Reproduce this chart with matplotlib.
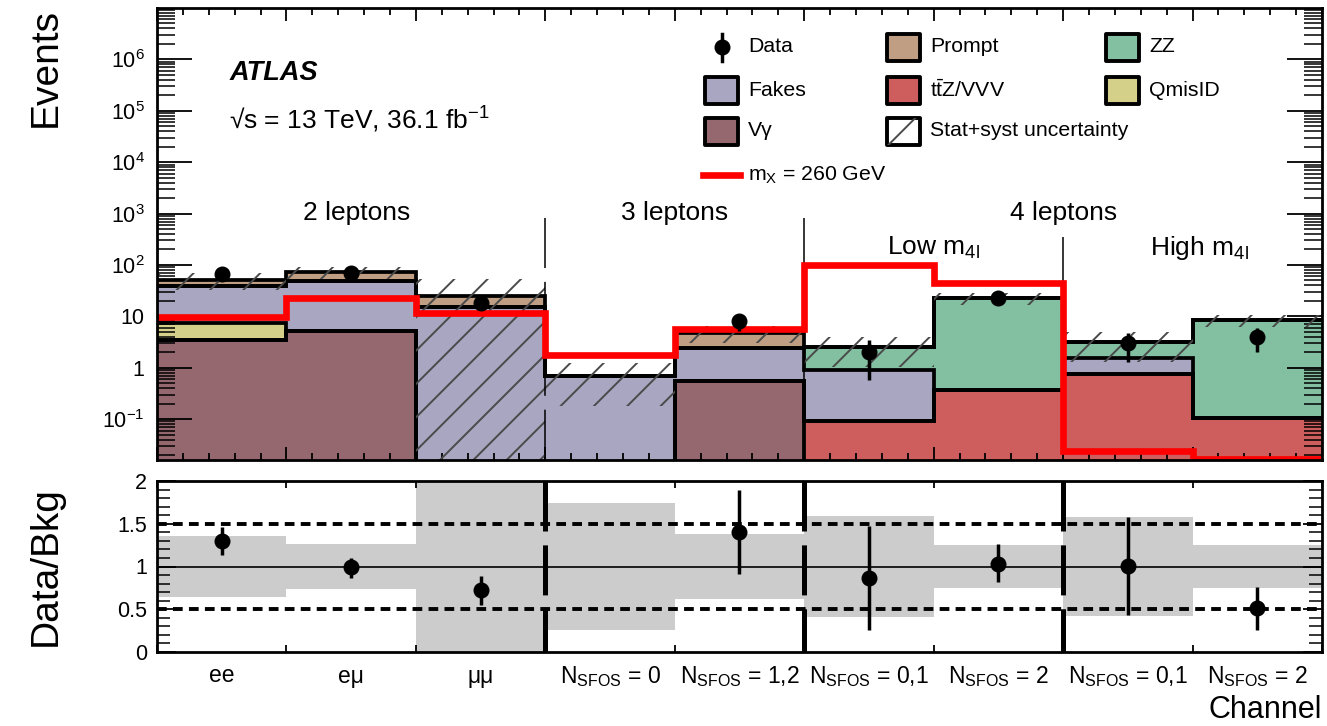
import numpy as np
import matplotlib
matplotlib.use("Agg")
import matplotlib.pyplot as plt
from matplotlib.patches import Rectangle
from matplotlib.lines import Line2D
from matplotlib.ticker import FixedLocator, LogLocator, MultipleLocator, FuncFormatter, NullFormatter
import matplotlib.transforms as mtransforms

plt.rcParams["font.family"] = ["Liberation Sans", "DejaVu Sans"]
plt.rcParams["mathtext.fontset"] = "custom"
plt.rcParams["mathtext.rm"] = "Liberation Sans"
plt.rcParams["mathtext.it"] = "Liberation Sans:italic"
plt.rcParams["mathtext.bf"] = "Liberation Sans:bold"
plt.rcParams["lines.scale_dashes"] = False
plt.rcParams["hatch.linewidth"] = 1.4

# ---------------- data ----------------
channels = ["ee", "eμ", "μμ",
            r"N$_{\mathrm{SFOS}}$ = 0", r"N$_{\mathrm{SFOS}}$ = 1,2",
            r"N$_{\mathrm{SFOS}}$ = 0,1", r"N$_{\mathrm{SFOS}}$ = 2",
            r"N$_{\mathrm{SFOS}}$ = 0,1", r"N$_{\mathrm{SFOS}}$ = 2"]

vgamma = [3.5, 5.2, 0, 0, 0.54, 0, 0, 0, 0]
ttz_vvv = [0, 0, 0, 0, 0, 0.09, 0.37, 0.75, 0.105]
qmisid = [3.9, 0, 0, 0, 0, 0, 0, 0, 0]
fakes = [31.6, 43.8, 15.0, 0.70, 1.86, 0.82, 0, 0.80, 0]
zz = [0, 0, 0, 0, 0, 1.6, 22.1, 1.55, 8.2]
prompt = [12.0, 23.0, 10.0, 0, 2.4, 0, 0, 0, 0]

data = [67, 71, 18, 0, 8, 2, 23, 3, 4]
signal_260 = [9.8, 22.5, 11.6, 1.8, 5.7, 100, 44, 0.024, 0.017]

# relative stat+syst uncertainty on the total background
bkg_rel_unc = [0.36, 0.26, 1.10, 0.74, 0.38, 0.59, 0.25, 0.58, 0.25]

ratio = [1.30, 0.99, 0.72, np.nan, 1.40, 0.87, 1.03, 1.01, 0.52]
ratio_err_up = [0.16, 0.11, 0.17, np.nan, 0.49, 0.60, 0.23, 0.57, 0.24]
ratio_err_dn = [0.17, 0.12, 0.17, np.nan, 0.49, 0.61, 0.21, 0.58, 0.26]

# ---------------- style ----------------
colors = {
    "Vγ": "#956870",
    "ttZ": "#CE5E5E",
    "QmisID": "#D4D089",
    "Fakes": "#A9A6C1",
    "ZZ": "#82C0A1",
    "Prompt": "#BF9E83",
}
stack = [("Vγ", vgamma), ("ttZ", ttz_vvv), ("QmisID", qmisid),
         ("Fakes", fakes), ("ZZ", zz), ("Prompt", prompt)]
hatch_color = "#4a4a4a"

nb = len(channels)
edges = np.arange(nb + 1)
centers = edges[:-1] + 0.5
W, H = 1327, 726
FLOOR = 1e-4
YMIN, YMAX = 0.016, 1.0e7

fig = plt.figure(figsize=(W / 100, H / 100), dpi=100)


def fig_xy(px, py):
    return px / W, 1 - py / H


ax = fig.add_axes([157 / W, 1 - 460 / H, 1165 / W, 452 / H])
ax2 = fig.add_axes([157 / W, 1 - 652 / H, 1165 / W, 171 / H])

# ---------------- upper panel ----------------
cum = np.zeros(nb)
for name, vals in stack:
    lower = cum.copy()
    cum = cum + np.asarray(vals, float)
    ax.stairs(np.maximum(cum, FLOOR), edges, baseline=np.maximum(lower, FLOOR),
              fill=True, color=colors[name], lw=0, zorder=1)
    ax.stairs(np.maximum(cum, FLOOR), edges, baseline=None,
              color="black", lw=2.7, zorder=2)
total = cum
unc = total * np.asarray(bkg_rel_unc)
band_lo = np.maximum(total - unc, FLOOR)
band_hi = total + unc
ax.bar(centers, band_hi - band_lo, bottom=band_lo, width=1.0, fill=False,
       hatch="/", edgecolor=hatch_color, linewidth=0, zorder=3)

ax.stairs(signal_260, edges, baseline=None, color="#ff0000", lw=4.8, zorder=4)

d = np.asarray(data, float)
m = d > 0
ax.errorbar(centers[m], d[m], yerr=np.sqrt(d[m]), fmt="o", color="black",
            ms=10.5, elinewidth=2.5, capsize=0, zorder=6)

ax.set_yscale("log")
ax.set_ylim(YMIN, YMAX)
ax.set_xlim(0, nb)
ax.yaxis.set_major_locator(FixedLocator([10.0 ** e for e in range(-1, 7)]))
ax.yaxis.set_minor_locator(LogLocator(base=10, subs=np.arange(2, 10), numticks=30))
ax.yaxis.set_minor_formatter(NullFormatter())


def log_label(v, pos):
    e = int(round(np.log10(v)))
    if e == 0:
        return "1"
    if e == 1:
        return "10"
    return r"$10^{%d}$" % e


ax.yaxis.set_major_formatter(FuncFormatter(log_label))
ax.set_xticks(edges)
ax.xaxis.set_minor_locator(MultipleLocator(0.2))
ax.tick_params(axis="x", which="both", direction="in", top=True, bottom=True, labelbottom=False)
ax.tick_params(axis="x", which="major", length=9.5, width=1.3)
ax.tick_params(axis="x", which="minor", length=5, width=1.3)
ax.tick_params(axis="y", which="both", direction="in", left=True, right=True)
ax.tick_params(axis="y", which="major", length=25, width=1.3, labelsize=15.5, pad=9)
ax.tick_params(axis="y", which="minor", length=13, width=1.1)
for s in ax.spines.values():
    s.set_linewidth(2.0)
    s.set_zorder(7)

# channel-group separators
blend = mtransforms.blended_transform_factory(ax.transData, ax.transAxes)
for xs, ytop in [(3, 0.535), (5, 0.535), (7, 0.493)]:
    ax.plot([xs, xs], [ytop, 0], transform=blend, color="black", lw=1.1,
            dashes=(36, 10), zorder=3.5)

group_font = 19
ax.text(1.54, 0.546, "2 leptons", transform=blend, ha="center", va="center", fontsize=group_font)
ax.text(4.0, 0.546, "3 leptons", transform=blend, ha="center", va="center", fontsize=group_font)
ax.text(7.0, 0.546, "4 leptons", transform=blend, ha="center", va="center", fontsize=group_font)
ax.text(6.0, 0.47, r"Low m$_{\mathrm{4l}}$", transform=blend, ha="center", va="center", fontsize=group_font)
ax.text(8.05, 0.47, r"High m$_{\mathrm{4l}}$", transform=blend, ha="center", va="center", fontsize=group_font)

fig.text(*fig_xy(230, 73), "ATLAS", fontsize=19.5, fontweight="bold", fontstyle="italic",
         ha="left", va="center")
fig.text(*fig_xy(229, 120), "√s = 13 TeV, 36.1 fb$^{-1}$", fontsize=19,
         ha="left", va="center")

# ---------------- legend ----------------
box_w, box_h = 33 / W, 27 / H
leg_font = 15.3
col_box = [705, 887, 1106]
col_txt = [748, 930, 1149]
row_y = [47, 90, 131, 175]
entries = [
    (1, 0, "Prompt", colors["Prompt"]),
    (2, 0, "ZZ", colors["ZZ"]),
    (0, 1, "Fakes", colors["Fakes"]),
    (1, 1, r"$\mathrm{t\bar{t}}$Z/VVV", colors["ttZ"]),
    (2, 1, "QmisID", colors["QmisID"]),
    (0, 2, "Vγ", colors["Vγ"]),
]
for c, r, label, col in entries:
    x0, y0 = fig_xy(col_box[c], row_y[r])
    fig.add_artist(Rectangle((x0, y0 - box_h / 2), box_w, box_h, transform=fig.transFigure,
                             facecolor=col, edgecolor="black", lw=2.8, joinstyle="round"))
    fig.text(*fig_xy(col_txt[c], row_y[r]), label, fontsize=leg_font, ha="left", va="center")

x0, y0 = fig_xy(col_box[1], row_y[2])
fig.add_artist(Rectangle((x0, y0 - box_h / 2), box_w, box_h, transform=fig.transFigure,
                         facecolor="white", edgecolor="black", lw=2.8, joinstyle="round"))
fig.add_artist(Rectangle((x0, y0 - box_h / 2), box_w, box_h, transform=fig.transFigure,
                         fill=False, hatch="/", edgecolor=hatch_color, lw=0))
fig.text(*fig_xy(col_txt[1], row_y[2]), "Stat+syst uncertainty", fontsize=leg_font,
         ha="left", va="center")

mx, my = fig_xy(722, row_y[0])
fig.add_artist(Line2D([mx, mx], [fig_xy(0, 34)[1], fig_xy(0, 61)[1]], transform=fig.transFigure,
                      color="black", lw=2.5))
fig.add_artist(Line2D([mx], [my], transform=fig.transFigure, marker="o", ms=10.5,
                      color="black", lw=0))
fig.text(*fig_xy(col_txt[0], row_y[0]), "Data", fontsize=leg_font, ha="left", va="center")

lx0, ly = fig_xy(703, row_y[3])
lx1, _ = fig_xy(740, row_y[3])
fig.add_artist(Line2D([lx0, lx1], [ly, ly], transform=fig.transFigure, color="#ff0000", lw=4.8))
fig.text(*fig_xy(col_txt[0], row_y[3]), r"m$_{\mathrm{X}}$ = 260 GeV", fontsize=leg_font,
         ha="left", va="center")

# ---------------- ratio panel ----------------
rel = np.asarray(bkg_rel_unc)
ax2.bar(centers, 2 * rel, bottom=1 - rel, width=1.0, color="#cccccc", lw=0, zorder=1)
ax2.axhline(1.0, color="black", lw=1.2, zorder=2)
for yl in (0.5, 1.5):
    ax2.axhline(yl, color="black", lw=2.8, dashes=(7, 4.5), zorder=2)
r = np.asarray(ratio)
ok = ~np.isnan(r)
ax2.errorbar(centers[ok], r[ok],
             yerr=[np.asarray(ratio_err_dn)[ok], np.asarray(ratio_err_up)[ok]],
             fmt="o", color="black", ms=10.5, elinewidth=2.5, capsize=0, zorder=5)
blend2 = mtransforms.blended_transform_factory(ax2.transData, ax2.transAxes)
for xs in (3, 5, 7):
    ax2.plot([xs, xs], [1, 0], transform=blend2, color="black", lw=3.6,
             dashes=(36, 10), zorder=3)

ax2.set_xlim(0, nb)
ax2.set_ylim(0, 2)
ax2.set_yticks([0, 0.5, 1, 1.5, 2], ["0", "0.5", "1", "1.5", "2"])
ax2.yaxis.set_minor_locator(MultipleLocator(0.1))
ax2.set_xticks(centers, channels)
ax2.set_xticks(edges, minor=True)
ax2.tick_params(axis="x", which="major", length=0, labelsize=16.5, pad=9)
ax2.tick_params(axis="x", which="minor", direction="in", top=True, bottom=True, length=5, width=1.3)
ax2.tick_params(axis="y", which="both", direction="in", left=True, right=True)
ax2.tick_params(axis="y", which="major", length=14, width=1.3, labelsize=15.5, pad=7)
ax2.tick_params(axis="y", which="minor", length=9.5, width=1.1)
for s in ax2.spines.values():
    s.set_linewidth(2.0)
    s.set_zorder(7)

# axis titles
fig.text(*fig_xy(46, 8), "Events", rotation=90, fontsize=28, ha="center", va="top")
fig.text(*fig_xy(46, 566), "Data/Bkg", rotation=90, fontsize=28, ha="center", va="center")
fig.text(*fig_xy(1322, 710), "Channel", fontsize=22, ha="right", va="center")

fig.savefig("out.png", dpi=100)
